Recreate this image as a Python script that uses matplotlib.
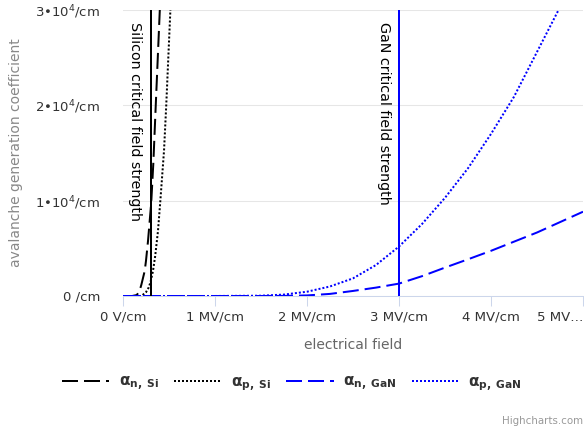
import matplotlib.pyplot as plt

# field in MV/cm, coefficient in 1/cm
e_n_si = [0, 0.1, 0.15, 0.18, 0.2, 0.236, 0.25, 0.272, 0.3, 0.308, 0.33, 0.356, 0.4, 0.45]
a_n_si = [0, 0, 100, 530, 1200, 2630, 3700, 5790, 9000, 10000, 14000, 20000, 30000, 45000]

e_p_si = [0, 0.2, 0.25, 0.28, 0.3, 0.326, 0.35, 0.38, 0.406, 0.446, 0.47, 0.515, 0.55]
a_p_si = [0, 0, 400, 900, 1500, 2630, 4200, 6800, 10000, 15260, 20000, 30000, 38000]

e_gan = [0, 0.5, 1.0, 1.5, 1.75, 2.0, 2.25, 2.5, 2.75, 3.0, 3.25, 3.5, 3.75, 4.0, 4.25, 4.5, 4.75, 5.0]
a_n_gan = [0, 0, 0, 0, 10, 60, 220, 530, 880, 1300, 2080, 2980, 3850, 4740, 5700, 6660, 7750, 8840]
a_p_gan = [0, 0, 1, 30, 150, 450, 1000, 1850, 3250, 5190, 7550, 10300, 13400, 17000, 20900, 25600, 30300, 35500]

crit_si = 0.3
crit_gan = 3.0

x_ticks = [0, 1, 2, 3, 4, 5]
x_labels = ["0 V/cm", "1 MV/cm", "2 MV/cm", "3 MV/cm", "4 MV/cm", "5 MV…"]
y_ticks = [0, 10000, 20000, 30000]
y_labels = ["0 /cm", "1•10$^4$/cm", "2•10$^4$/cm", "3•10$^4$/cm"]

fig = plt.figure(figsize=(5.84, 4.29), dpi=100)
ax = fig.add_axes([123/584, 1 - 296/429, 460/584, 286/429])

lw = 1.44
ax.plot(e_n_si, a_n_si, color="black", lw=lw, dashes=(8, 3), label=r"α$_{\mathbf{n,\ Si}}$")
ax.plot(e_p_si, a_p_si, color="black", lw=lw, dashes=(1, 1), label=r"α$_{\mathbf{p,\ Si}}$")
ax.plot(e_gan, a_n_gan, color="#0000ff", lw=lw, dashes=(8, 3), label=r"α$_{\mathbf{n,\ GaN}}$")
ax.plot(e_gan, a_p_gan, color="#0000ff", lw=lw, dashes=(1, 1), label=r"α$_{\mathbf{p,\ GaN}}$")

ax.axvline(crit_si, color="black", lw=lw, zorder=3)
ax.axvline(crit_gan, color="#0000ff", lw=lw, zorder=3)
ax.annotate("Silicon critical field strength", xy=(crit_si, 1), xycoords=("data", "axes fraction"),
            xytext=(-6, -8.6), textcoords="offset points", rotation=-90,
            ha="right", va="top", fontsize=10.3, color="black")
ax.annotate("GaN critical field strength", xy=(crit_gan, 1), xycoords=("data", "axes fraction"),
            xytext=(-6, -8.6), textcoords="offset points", rotation=-90,
            ha="right", va="top", fontsize=10.3, color="black")

ax.set_xlim(0, 5)
ax.set_ylim(0, 30000)
ax.set_xticks(x_ticks)
ax.set_xticklabels(x_labels, fontsize=9.5, color="#333333")
ax.set_yticks(y_ticks)
ax.set_yticklabels(y_labels, fontsize=9.5, color="#333333")
ax.get_xticklabels()[-1].set_horizontalalignment("right")
ax.tick_params(axis="x", length=7.2, width=0.75, color="#ccd6eb", pad=3.5)
ax.tick_params(axis="y", length=0, pad=16.5)
ax.grid(axis="y", color="#e6e6e6", lw=0.75)
ax.set_axisbelow(True)
for s in ["top", "right", "left"]:
    ax.spines[s].set_visible(False)
ax.spines["bottom"].set_color("#ccd6eb")
ax.spines["bottom"].set_linewidth(0.75)

fig.text(353/584, 1 - 345/429, "electrical field", ha="center", va="center", fontsize=10, color="#666666")
fig.text(16/584, 1 - 153/429, "avalanche generation coefficient", ha="center", va="center",
         rotation=90, fontsize=10, color="#888888")
fig.text(583/584, 1 - 421/429, "Highcharts.com", ha="right", va="center", fontsize=7.4, color="#999999")

leg = fig.legend(loc="center", bbox_to_anchor=(0.5, 1 - 384/429), ncol=4, frameon=False,
                 prop={"weight": "bold", "size": 11}, handlelength=3.1, handletextpad=0.6,
                 columnspacing=1.0)
for t in leg.get_texts():
    t.set_color("#333333")

fig.savefig("out.png", dpi=100)
